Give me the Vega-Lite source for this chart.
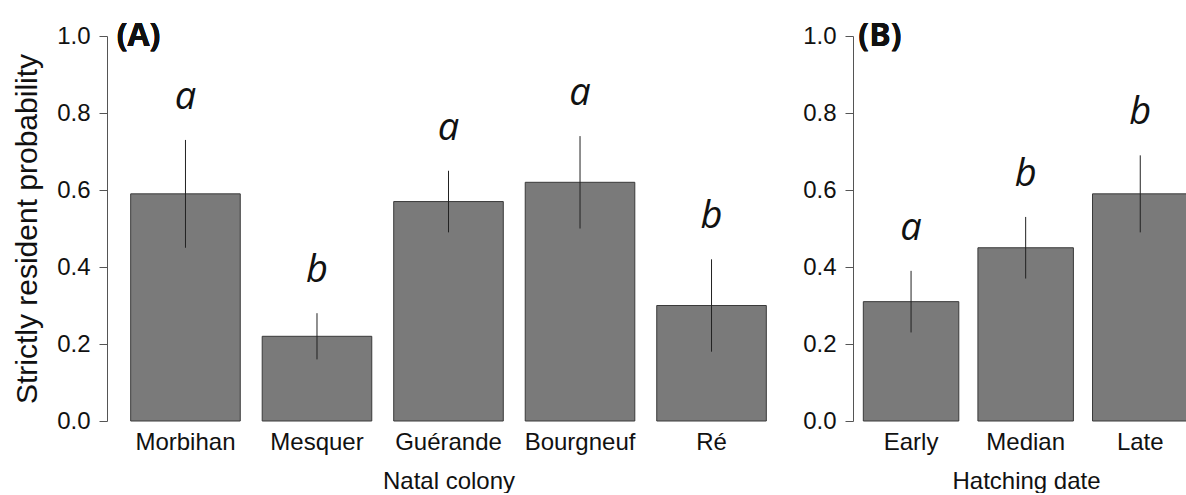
{
  "$schema": "https://vega.github.io/schema/vega-lite/v6.json",
  "padding": {"left": 12, "top": 20, "right": 0, "bottom": 0},
  "background": "white",
  "spacing": 12,
  "config": {
    "view": {"stroke": null},
    "font": "Liberation Sans",
    "axisY": {
      "domainColor": "#555555", "tickColor": "#555555", "tickSize": 8,
      "labelFontSize": 24, "labelColor": "#111111", "labelPadding": 9,
      "grid": false,
      "titleFontSize": 30, "titleFontWeight": "normal", "titleColor": "#111111"
    },
    "axisX": {
      "domain": false, "ticks": false, "labelAngle": 0, "labelPadding": 9,
      "labelFontSize": 24, "labelColor": "#111111",
      "titleFontSize": 24, "titleFontWeight": "normal", "titleColor": "#111111", "titlePadding": 15
    }
  },
  "hconcat": [
    {
      "width": 683,
      "height": 385,
      "data": {"values": [
        {"group": "Morbihan", "p": 0.59, "lo": 0.45, "hi": 0.73, "letter": "a"},
        {"group": "Mesquer", "p": 0.22, "lo": 0.16, "hi": 0.28, "letter": "b"},
        {"group": "Guérande", "p": 0.57, "lo": 0.49, "hi": 0.65, "letter": "a"},
        {"group": "Bourgneuf", "p": 0.62, "lo": 0.50, "hi": 0.74, "letter": "a"},
        {"group": "Ré", "p": 0.30, "lo": 0.18, "hi": 0.42, "letter": "b"}
      ]},
      "encoding": {
        "x": {"field": "group", "type": "nominal", "sort": null, "title": "Natal colony",
              "scale": {"paddingInner": 0.1667, "paddingOuter": 0.18}}
      },
      "layer": [
        {
          "mark": {"type": "bar", "fill": "#7a7a7a", "stroke": "#3a3a3a", "strokeWidth": 1},
          "encoding": {"y": {"field": "p", "type": "quantitative", "title": "Strictly resident probability",
                             "scale": {"domain": [0, 1], "nice": false},
                             "axis": {"titlePadding": 14, "values": [0, 0.2, 0.4, 0.6, 0.8, 1.0], "format": ".1f"}}}
        },
        {
          "mark": {"type": "rule", "color": "#222222", "strokeWidth": 1},
          "encoding": {"y": {"field": "lo", "type": "quantitative"}, "y2": {"field": "hi"}}
        },
        {
          "mark": {"type": "text", "font": "Open Sans", "fontStyle": "italic", "fontSize": 38, "baseline": "alphabetic", "dy": -31, "color": "#111111"},
          "encoding": {"y": {"field": "hi", "type": "quantitative"}, "text": {"field": "letter"}}
        },
        {
          "mark": {"type": "text", "text": "(A)", "font": "Open Sans", "fontWeight": "bold", "fontSize": 32, "align": "left", "baseline": "alphabetic", "dx": -14, "dy": 10, "color": "#111111"},
          "encoding": {"x": {"datum": "Morbihan", "bandPosition": 0}, "y": {"datum": 1}}
        }
      ]
    },
    {
      "width": 335,
      "height": 385,
      "data": {"values": [
        {"group": "Early", "p": 0.31, "lo": 0.23, "hi": 0.39, "letter": "a"},
        {"group": "Median", "p": 0.45, "lo": 0.37, "hi": 0.53, "letter": "b"},
        {"group": "Late", "p": 0.59, "lo": 0.49, "hi": 0.69, "letter": "b"}
      ]},
      "encoding": {
        "x": {"field": "group", "type": "nominal", "sort": null, "title": "Hatching date",
              "axis": {"titleX": 173},
              "scale": {"paddingInner": 0.1667, "paddingOuter": 0.045, "align": 1}}
      },
      "layer": [
        {
          "mark": {"type": "bar", "fill": "#7a7a7a", "stroke": "#3a3a3a", "strokeWidth": 1},
          "encoding": {"y": {"field": "p", "type": "quantitative", "title": null,
                             "scale": {"domain": [0, 1], "nice": false},
                             "axis": {"values": [0, 0.2, 0.4, 0.6, 0.8, 1.0], "format": ".1f"}}}
        },
        {
          "mark": {"type": "rule", "color": "#222222", "strokeWidth": 1},
          "encoding": {"y": {"field": "lo", "type": "quantitative"}, "y2": {"field": "hi"}}
        },
        {
          "mark": {"type": "text", "font": "Open Sans", "fontStyle": "italic", "fontSize": 38, "baseline": "alphabetic", "dy": -31, "color": "#111111"},
          "encoding": {"y": {"field": "hi", "type": "quantitative"}, "text": {"field": "letter"}}
        },
        {
          "mark": {"type": "text", "text": "(B)", "font": "Open Sans", "fontWeight": "bold", "fontSize": 32, "align": "left", "baseline": "alphabetic", "dx": -5, "dy": 10, "color": "#111111"},
          "encoding": {"x": {"datum": "Early", "bandPosition": 0}, "y": {"datum": 1}}
        }
      ]
    }
  ]
}
